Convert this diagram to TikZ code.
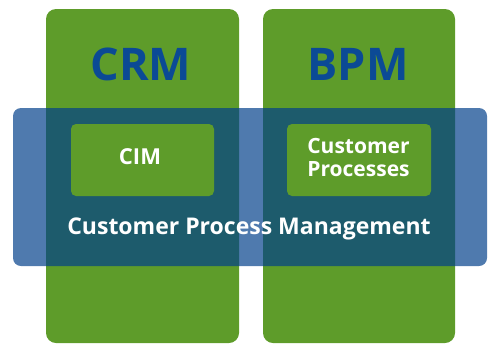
\documentclass[tikz,border=0pt]{standalone}
\usepackage{fontspec}
\setmainfont{Open Sans}
\usepackage{xcolor}
\definecolor{colgreen}{RGB}{94,156,42}
\definecolor{bandblue}{RGB}{0,62,138}
\definecolor{titleblue}{RGB}{11,74,149}

\begin{document}
\begin{tikzpicture}[x=1pt,y=-1pt]
  \useasboundingbox (0,0) rectangle (503,354);

  % Columns
  \fill[colgreen, rounded corners=10pt] (46,9) rectangle (239,343);
  \fill[colgreen, rounded corners=10pt] (263,9) rectangle (455,343);

  % Titles
  \node[titleblue, font=\fontsize{45}{48}\selectfont\bfseries] (crm) at (141,64) {CRM};
  \node[titleblue, font=\fontsize{45}{48}\selectfont\bfseries] (bpm) at (358,64) {BPM};

  % Band across both columns
  \fill[bandblue, fill opacity=0.69, rounded corners=8pt] (13,108) rectangle (487,266);

  % Inner boxes
  \fill[colgreen, rounded corners=5pt] (71,124) rectangle (214,196);
  \fill[colgreen, rounded corners=5pt] (287,124) rectangle (431,196);
  \node[white, font=\fontsize{22}{24}\selectfont\bfseries] (cim) at (140,157) {CIM};
  \node[white, font=\fontsize{21}{23}\selectfont\bfseries, align=center] (cp) at (358.5,157) {Customer\\Processes};

  % Band label
  \node[white, font=\fontsize{23}{26}\selectfont\bfseries] (cpm) at (249,229) {Customer Process Management};
\end{tikzpicture}
\end{document}
